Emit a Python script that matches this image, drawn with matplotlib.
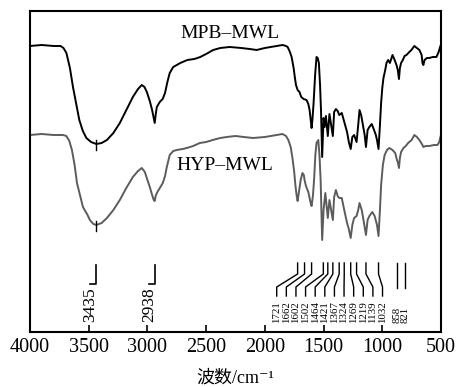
import matplotlib
matplotlib.use("Agg")
import matplotlib.pyplot as plt
import numpy as np

# =====================================================
# SPECTRA (wavenumber, transmittance a.u.)
# =====================================================

mpb_wn = [4000, 3900, 3800, 3740, 3715, 3690, 3660, 3634, 3600, 3580, 3550, 3520,
          3480, 3435, 3390, 3345, 3290, 3235, 3180, 3124, 3080, 3048, 3025, 3005,
          2980, 2960, 2945, 2938, 2930, 2920, 2895, 2870, 2850, 2830, 2810, 2780,
          2720, 2660, 2600, 2550, 2500, 2440, 2380, 2300, 2200, 2130, 2070, 2000,
          1950, 1900, 1849, 1820, 1806, 1790, 1772, 1755, 1745, 1735, 1721, 1705,
          1690, 1670, 1645, 1630, 1619, 1610, 1602, 1595, 1585, 1572, 1560, 1550,
          1540, 1530, 1522, 1512, 1500, 1491, 1480, 1464, 1450, 1421, 1410, 1395,
          1380, 1367, 1345, 1324, 1300, 1285, 1269, 1255, 1240, 1219, 1205, 1194,
          1180, 1165, 1150, 1139, 1125, 1110, 1090, 1070, 1055, 1045, 1032, 1020,
          1010, 1000, 990, 975, 964, 950, 935, 913, 895, 879, 868, 858, 850, 840,
          825, 810, 794, 770, 752, 727, 705, 684, 665, 658, 650, 640, 620, 600,
          570, 539, 520, 505, 500]
mpb_t = [286, 287, 286, 286, 284, 279, 264, 245, 224, 212, 201, 194,
         190, 188, 189, 192, 199, 209, 222, 235, 243, 247, 245, 240,
         231, 222, 213, 209, 217, 225, 230, 233, 239, 250, 259, 265,
         269, 272, 273, 275, 278, 282, 284, 285, 284, 283, 282, 284,
         285, 286, 287, 286, 285, 281, 275, 264, 255, 247, 242, 240,
         235, 233, 232, 228, 222, 212, 204, 212, 229, 257, 275, 274,
         269, 247, 222, 175, 214, 205, 216, 196, 218, 196, 220, 223,
         221, 217, 219, 210, 200, 190, 183, 195, 197, 190, 207, 222,
         217, 207, 197, 185, 202, 205, 208, 202, 197, 192, 183, 207,
         229, 244, 254, 262, 269, 272, 269, 277, 272, 267, 262, 253, 264, 269,
         272, 276, 277, 280, 282, 286, 284, 282, 277, 269, 267, 272, 274, 274,
         275, 275, 280, 286, 287]

hyp_wn = [4000, 3900, 3800, 3720, 3690, 3665, 3643, 3620, 3600, 3570, 3549, 3510,
          3490, 3460, 3435, 3390, 3345, 3290, 3235, 3180, 3124, 3080, 3048, 3022,
          3000, 2980, 2960, 2946, 2938, 2930, 2920, 2895, 2869, 2850, 2835, 2820,
          2810, 2780, 2750, 2700, 2665, 2610, 2554, 2500, 2444, 2380, 2325, 2250,
          2180, 2100, 2000, 1900, 1850, 1820, 1800, 1780, 1765, 1750, 1740, 1730,
          1721, 1710, 1695, 1680, 1668, 1662, 1650, 1630, 1610, 1602, 1590, 1580,
          1570, 1560, 1545, 1535, 1525, 1512, 1500, 1485, 1464, 1450, 1421, 1410,
          1395, 1380, 1367, 1345, 1324, 1300, 1285, 1269, 1255, 1240, 1219, 1205,
          1194, 1175, 1160, 1139, 1125, 1110, 1085, 1065, 1045, 1032, 1020, 1010,
          995, 980, 960, 940, 913, 890, 875, 868, 858, 850, 840, 820, 800, 780,
          750, 727, 705, 684, 658, 650, 630, 600, 560, 530, 515, 505, 500]
hyp_t = [197, 198, 197, 197, 196, 191, 182, 167, 149, 135, 125, 117,
         112, 108, 107, 109, 114, 122, 132, 144, 155, 161, 164, 160,
         152, 145, 137, 132, 131, 136, 139, 144, 149, 156, 165, 172,
         177, 181, 182, 183, 184, 186, 189, 190, 192, 194, 195, 196,
         195, 194, 195, 197, 198, 196, 192, 185, 174, 160, 147, 137,
         131, 140, 152, 159, 157, 152, 146, 140, 129, 126, 137, 154,
         177, 189, 192, 177, 152, 92, 122, 139, 114, 132, 112, 135,
         142, 136, 134, 134, 122, 109, 103, 94, 107, 114, 116, 122,
         129, 122, 112, 97, 112, 116, 120, 116, 107, 96, 122, 147,
         167, 177, 182, 184, 182, 179, 172, 170, 164, 174, 180, 184, 186, 189,
         192, 197, 195, 192, 187, 185, 186, 186, 187, 187, 190, 195, 197]

# peak labels
main_peaks = [3435, 2938]
group_peaks = [1721, 1662, 1602, 1502, 1464, 1421, 1367, 1324, 1269, 1219, 1139, 1032]
side_peaks = [858, 821]

# =====================================================
# FIGURE
# =====================================================

serif = ["Liberation Serif", "Noto Sans CJK SC", "DejaVu Sans"]
plt.rcParams["font.family"] = serif

fig = plt.figure(figsize=(4.6, 3.87), dpi=100)
ax = fig.add_axes([0.0652, 0.1421, 0.8935, 0.8295])

ax.plot(mpb_wn, mpb_t, color="black", linewidth=1.4)
ax.plot(hyp_wn, hyp_t, color="#5c5c5c", linewidth=1.4)

# small cross marks at 3435
for wn, t in [(3435, 188), (3435, 107)]:
    ax.plot([wn, wn], [t - 6, t + 4], color="black", linewidth=1.0)

ax.text(2299, 298, "MPB–MWL", fontsize=14, ha="center", va="center")
ax.text(2341, 166, "HYP–MWL", fontsize=14, ha="center", va="center")

# leaders for 3435 / 2938
for wn in main_peaks:
    tx = wn + 50
    ax.plot([wn, wn, tx], [67, 48, 48], color="black", linewidth=1.2)
    ax.text(tx, 10, str(wn), rotation=90, fontsize=12.5,
            ha="center", va="bottom")

# leaders for the fingerprint group
label_x = np.linspace(1899, 998, len(group_peaks))
for wn, lx in zip(group_peaks, label_x):
    ax.plot([wn, wn, lx, lx], [69, 58, 45, 36], color="black", linewidth=1.0)
    ax.text(lx, 9, str(wn), rotation=90, fontsize=7.8,
            ha="center", va="bottom")

side_x = [872, 808]
for wn, lx in zip(side_peaks, side_x):
    ax.plot([lx, lx], [69, 44], color="black", linewidth=1.0)
    ax.text(lx, 9, str(wn), rotation=90, fontsize=7.8,
            ha="center", va="bottom")

ax.set_xlim(4000, 500)
ax.set_ylim(0, 321)
ax.set_xticks(np.arange(4000, 499, -500))
ax.set_yticks([])
ax.tick_params(axis="x", direction="in", length=5, width=1.2,
               labelsize=14.5, pad=4)
for s in ax.spines.values():
    s.set_linewidth(1.5)

ax.set_xlabel("波数/cm⁻¹", fontsize=13, labelpad=9)

fig.savefig("out.png", dpi=100)
